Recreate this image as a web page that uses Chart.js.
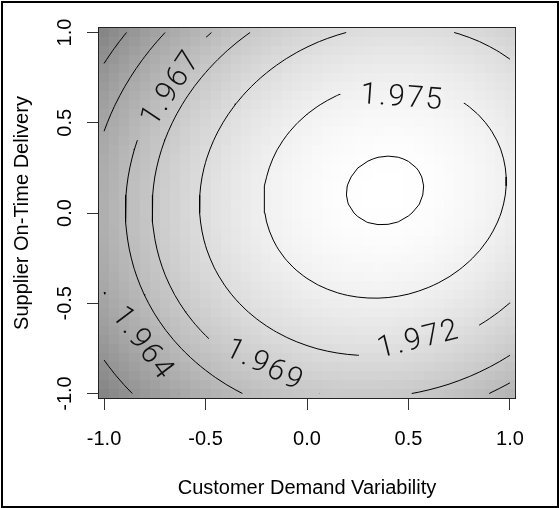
<!DOCTYPE html>
<html>
<head>
<meta charset="utf-8">
<title>Response surface</title>
<script src="https://cdn.jsdelivr.net/npm/chart.js@4.4.1/dist/chart.umd.min.js"></script>
<style>
  html, body { margin: 0; padding: 0; background: #fff; }
  canvas { display: block; }
</style>
</head>
<body>
<canvas id="surfaceCanvas" width="560" height="508"></canvas>
<script>
// second-order model in coded units: b0 + b1*x1 + b2*x2 + b11*x1^2 + b22*x2^2 + b12*x1*x2
const termNames = ["(Intercept)", "x1", "x2", "x1^2", "x2^2", "x1:x2"];
const coefficients = [1.97625, 0.00471, 0.00116, -0.00629, -0.00629, 0.00107];

// contour levels; the labelled ones get their text near the given spot
const contourLevels = [1.961, 1.964, 1.967, 1.969, 1.972, 1.975, 1.977];
const labelLevels = [1.964, 1.967, 1.969, 1.972, 1.975];
const labelTexts = ["1.964", "1.967", "1.969", "1.972", "1.975"];
const labelNearX = [-0.79, -0.67, -0.08, 0.55, 0.47];
const labelNearY = [-0.73, 0.69, -0.90, -0.70, 0.63];

const xTicks = [-1.0, -0.5, 0.0, 0.5, 1.0];
const yTicks = [-1.0, -0.5, 0.0, 0.5, 1.0];
const xTitle = "Customer Demand Variability";
const yTitle = "Supplier On-Time Delivery";

const gridStep = 0.05;
const axisFont = "'Liberation Sans', Arial, sans-serif";
const labelFont = "300 30px Roboto, 'Liberation Sans', sans-serif";
const labelSpacing = "2px";

function predict(x, y) {
  const b = coefficients;
  return b[0] + b[1] * x + b[2] * y + b[3] * x * x + b[4] * y * y + b[5] * x * y;
}

// evaluate the model on a square grid over [-1, 1]
const gridCount = Math.round(2 / gridStep) + 1;
const gridValues = [];
for (let i = 0; i < gridCount; i++) gridValues.push(-1 + i * gridStep);
const surface = gridValues.map((x) => gridValues.map((y) => predict(x, y)));

// marching squares, then chain the pieces into polylines
function traceLevel(level) {
  const n = gridCount;
  const segs = [];
  const ends = {};
  for (let i = 0; i < n - 1; i++) {
    for (let j = 0; j < n - 1; j++) {
      const edges = [
        ["h" + i + "_" + j, i, j, i + 1, j],
        ["v" + (i + 1) + "_" + j, i + 1, j, i + 1, j + 1],
        ["h" + i + "_" + (j + 1), i, j + 1, i + 1, j + 1],
        ["v" + i + "_" + j, i, j, i, j + 1],
      ];
      const pts = [];
      edges.forEach(([key, ai, aj, bi, bj]) => {
        const za = surface[ai][aj];
        const zb = surface[bi][bj];
        if ((za - level) * (zb - level) < 0) {
          const t = (level - za) / (zb - za);
          pts.push({
            key: key,
            x: gridValues[ai] + t * (gridValues[bi] - gridValues[ai]),
            y: gridValues[aj] + t * (gridValues[bj] - gridValues[aj]),
          });
        }
      });
      const pairs = pts.length === 2 ? [[pts[0], pts[1]]] : pts.length === 4 ? [[pts[0], pts[1]], [pts[2], pts[3]]] : [];
      pairs.forEach((pair) => {
        const k = segs.length;
        segs.push(pair);
        pair.forEach((p) => {
          (ends[p.key] = ends[p.key] || []).push(k);
        });
      });
    }
  }

  const used = segs.map(() => false);
  const degree = (k) => Math.min(ends[segs[k][0].key].length, ends[segs[k][1].key].length);
  const starts = segs.map((s, k) => k).sort((a, b) => degree(a) - degree(b));
  const lines = [];
  starts.forEach((k0) => {
    if (used[k0]) return;
    used[k0] = true;
    let [p, q] = segs[k0];
    if (ends[p.key].length > 1 && ends[q.key].length === 1) [p, q] = [q, p];
    const line = [p, q];
    let cur = q;
    while (true) {
      const next = ends[cur.key].find((k) => !used[k]);
      if (next === undefined) break;
      used[next] = true;
      const [a, b] = segs[next];
      cur = a.key === cur.key ? b : a;
      line.push(cur);
    }
    line.closed = line[0].key === line[line.length - 1].key;
    lines.push(line);
  });
  return lines;
}

const contourSets = contourLevels.map((level) => ({ level: level, lines: traceLevel(level) }));

let datasets = [];
contourSets.forEach((set) => {
  set.lines.forEach((line) => {
    datasets.push({
      label: String(set.level),
      data: line.map((p) => ({ x: p.x, y: p.y })),
      showLine: true,
      borderColor: "#000",
      borderWidth: 1,
      pointRadius: 0,
      pointHoverRadius: 0,
      tension: 0,
    });
  });
});

// position s along a pixel polyline; loops wrap round
function pointAlong(path, s) {
  const { px, cum, closed } = path;
  const total = cum[cum.length - 1];
  if (closed) s = ((s % total) + total) % total;
  let i = 1;
  while (i < px.length - 1 && cum[i] < s) i++;
  const seg = cum[i] - cum[i - 1] || 1;
  const t = Math.max(0, Math.min(1, (s - cum[i - 1]) / seg));
  return [px[i - 1][0] + t * (px[i][0] - px[i - 1][0]), px[i - 1][1] + t * (px[i][1] - px[i - 1][1])];
}

// like R: the label sits on a chord of the contour, and that stretch of line is left out
function placeLabels(chart) {
  const { ctx, scales } = chart;
  ctx.save();
  ctx.font = labelFont;
  ctx.letterSpacing = labelSpacing;
  const spots = labelLevels.map((level, k) => {
    const set = contourSets.find((s) => s.level === level);
    const ax = scales.x.getPixelForValue(labelNearX[k]);
    const ay = scales.y.getPixelForValue(labelNearY[k]);
    let best = null;
    set.lines.forEach((line) => {
      const px = line.map((p) => [scales.x.getPixelForValue(p.x), scales.y.getPixelForValue(p.y)]);
      const cum = [0];
      for (let i = 1; i < px.length; i++) cum.push(cum[i - 1] + Math.hypot(px[i][0] - px[i - 1][0], px[i][1] - px[i - 1][1]));
      for (let i = 0; i < px.length - 1; i++) {
        const [x1, y1] = px[i];
        const [x2, y2] = px[i + 1];
        const dx = x2 - x1, dy = y2 - y1;
        const len2 = dx * dx + dy * dy;
        let t = len2 ? ((ax - x1) * dx + (ay - y1) * dy) / len2 : 0;
        t = Math.max(0, Math.min(1, t));
        const d = Math.hypot(ax - (x1 + t * dx), ay - (y1 + t * dy));
        if (!best || d < best.d) {
          best = { d: d, path: { px: px, cum: cum, closed: line.closed }, s0: cum[i] + t * Math.sqrt(len2) };
        }
      }
    });

    const { path, s0 } = best;
    const { px, cum, closed } = path;
    const total = cum[cum.length - 1];
    const width = ctx.measureText(labelTexts[k]).width;
    const gapLen = width + 40;
    const span = (h) => {
      let a = s0 - h, b = s0 + h;
      if (!closed) {
        if (a < 0) { b = Math.min(total, b - a); a = 0; }
        if (b > total) { a = Math.max(0, a - (b - total)); b = total; }
      }
      return [a, b];
    };
    const chord = (h) => {
      const [a, b] = span(h);
      const p = pointAlong(path, a), q = pointAlong(path, b);
      return Math.hypot(q[0] - p[0], q[1] - p[1]);
    };
    let lo = 0, hi = closed ? total / 4 : total / 2;
    if (chord(hi) > gapLen) {
      for (let it = 0; it < 40; it++) {
        const mid = (lo + hi) / 2;
        if (chord(mid) < gapLen) lo = mid; else hi = mid;
      }
    }
    const [a, b] = span(hi);
    const p = pointAlong(path, a);
    const q = pointAlong(path, b);
    let angle = Math.atan2(q[1] - p[1], q[0] - p[0]);
    if (angle > Math.PI / 2) angle -= Math.PI;
    if (angle < -Math.PI / 2) angle += Math.PI;

    // vertices inside the hidden stretch, in order along the line
    const inner = [];
    px.forEach((pt, i) => {
      const shifts = closed ? [-total, 0, total] : [0];
      shifts.forEach((sh) => {
        const s = cum[i] + sh;
        if (s > a && s < b) inner.push({ s: s, pt: pt });
      });
    });
    inner.sort((u, v) => u.s - v.s);
    const pts = [p].concat(inner.map((u) => u.pt), [q]);

    // thin band that follows the hidden stretch of line
    const left = [], right = [];
    pts.forEach((pt, i) => {
      const prev = pts[Math.max(i - 1, 0)], next = pts[Math.min(i + 1, pts.length - 1)];
      const dx = next[0] - prev[0], dy = next[1] - prev[1];
      const len = Math.hypot(dx, dy) || 1;
      const nx = (-dy / len) * 4, ny = (dx / len) * 4;
      left.push([pt[0] + nx, pt[1] + ny]);
      right.push([pt[0] - nx, pt[1] - ny]);
    });
    return {
      text: labelTexts[k],
      cx: (p[0] + q[0]) / 2,
      cy: (p[1] + q[1]) / 2,
      angle: angle,
      band: left.concat(right.reverse()),
    };
  });
  ctx.restore();
  return spots;
}

const pageFrame = {
  id: "pageFrame",
  beforeDraw(chart) {
    const ctx = chart.ctx;
    ctx.save();
    ctx.fillStyle = "#fff";
    ctx.fillRect(0, 0, chart.width, chart.height);
    ctx.restore();
  },
  afterDraw(chart) {
    const ctx = chart.ctx;
    ctx.save();
    ctx.strokeStyle = "#000";
    ctx.lineWidth = 2;
    ctx.strokeRect(2, 2, chart.width - 4, chart.height - 3);
    ctx.restore();
  },
};

const surfaceImage = {
  id: "surfaceImage",
  beforeDatasetsDraw(chart) {
    const { ctx, scales } = chart;
    let zMin = Infinity, zMax = -Infinity;
    surface.forEach((col) => col.forEach((z) => {
      zMin = Math.min(zMin, z);
      zMax = Math.max(zMax, z);
    }));
    const low = 0.52;
    ctx.save();
    for (let i = 0; i < gridCount; i++) {
      const x0 = Math.round(scales.x.getPixelForValue(gridValues[i] - gridStep / 2));
      const x1 = Math.round(scales.x.getPixelForValue(gridValues[i] + gridStep / 2));
      for (let j = 0; j < gridCount; j++) {
        const y0 = Math.round(scales.y.getPixelForValue(gridValues[j] + gridStep / 2));
        const y1 = Math.round(scales.y.getPixelForValue(gridValues[j] - gridStep / 2));
        const t = (surface[i][j] - zMin) / (zMax - zMin);
        const g = Math.round(255 * (low + (1 - low) * t));
        ctx.fillStyle = "rgb(" + g + "," + g + "," + g + ")";
        ctx.fillRect(x0, y0, x1 - x0, y1 - y0);
      }
    }
    ctx.restore();
  },
};

const contourLabels = {
  id: "contourLabels",
  beforeDatasetsDraw(chart) {
    const { ctx, chartArea } = chart;
    const spots = placeLabels(chart);
    chart.$labelSpots = spots;
    // keep the lines out of the stretches under the labels
    ctx.save();
    ctx.beginPath();
    ctx.rect(chartArea.left, chartArea.top, chartArea.width, chartArea.height);
    spots.forEach((s) => {
      s.band.forEach(([x, y], idx) => {
        if (idx === 0) ctx.moveTo(x, y);
        else ctx.lineTo(x, y);
      });
      ctx.closePath();
    });
    ctx.clip("evenodd");
  },
  afterDatasetsDraw(chart) {
    const { ctx, chartArea } = chart;
    ctx.restore();

    ctx.save();
    ctx.font = labelFont;
    ctx.letterSpacing = labelSpacing;
    ctx.fillStyle = "#111";
    ctx.textAlign = "center";
    ctx.textBaseline = "middle";
    chart.$labelSpots.forEach((s) => {
      ctx.save();
      ctx.translate(s.cx, s.cy);
      ctx.rotate(s.angle);
      ctx.fillText(s.text, 0, 0);
      ctx.restore();
    });
    ctx.restore();

    // box round the plot
    ctx.save();
    ctx.strokeStyle = "#222";
    ctx.lineWidth = 1;
    ctx.strokeRect(chartArea.left - 0.5, chartArea.top - 0.5, chartArea.width + 1, chartArea.height + 1);
    ctx.restore();
  },
};

const ctx = document.querySelector("#surfaceCanvas");

new Chart(ctx, {
  type: "scatter",
  data: { datasets: datasets },
  options: {
    responsive: false,
    animation: false,
    events: [],
    layout: { padding: { left: 0, top: 28, right: 45, bottom: 0 } },
    plugins: {
      legend: { display: false },
      tooltip: { enabled: false },
    },
    scales: {
      x: {
        type: "linear",
        min: -1 - gridStep / 2,
        max: 1 + gridStep / 2,
        afterBuildTicks: (axis) => {
          axis.ticks = xTicks.map((v) => ({ value: v }));
        },
        afterFit: (axis) => {
          axis.height = 110;
        },
        ticks: {
          autoSkip: false,
          maxRotation: 0,
          padding: 17,
          color: "#000",
          font: { family: axisFont, size: 20 },
          callback: (v) => Number(v).toFixed(1),
        },
        grid: { drawOnChartArea: false, drawTicks: true, tickLength: 12, tickColor: "#333", tickWidth: 1 },
        border: { display: false },
        title: { display: true, text: xTitle, color: "#000", font: { family: axisFont, size: 20 }, padding: { top: 0, bottom: 8 } },
      },
      y: {
        type: "linear",
        min: -1 - gridStep / 2,
        max: 1 + gridStep / 2,
        afterBuildTicks: (axis) => {
          axis.ticks = yTicks.map((v) => ({ value: v }));
        },
        afterFit: (axis) => {
          axis.width = 99;
        },
        ticks: {
          autoSkip: false,
          minRotation: 90,
          maxRotation: 90,
          crossAlign: "center",
          padding: 4,
          color: "#000",
          font: { family: axisFont, size: 20 },
          callback: (v) => Number(v).toFixed(1),
        },
        grid: { drawOnChartArea: false, drawTicks: true, tickLength: 12, tickColor: "#333", tickWidth: 1 },
        border: { display: false },
        title: { display: true, text: yTitle, color: "#000", font: { family: axisFont, size: 20 }, padding: { top: 10, bottom: 0 } },
      },
    },
  },
  plugins: [pageFrame, surfaceImage, contourLabels],
});
</script>
</body>
</html>
